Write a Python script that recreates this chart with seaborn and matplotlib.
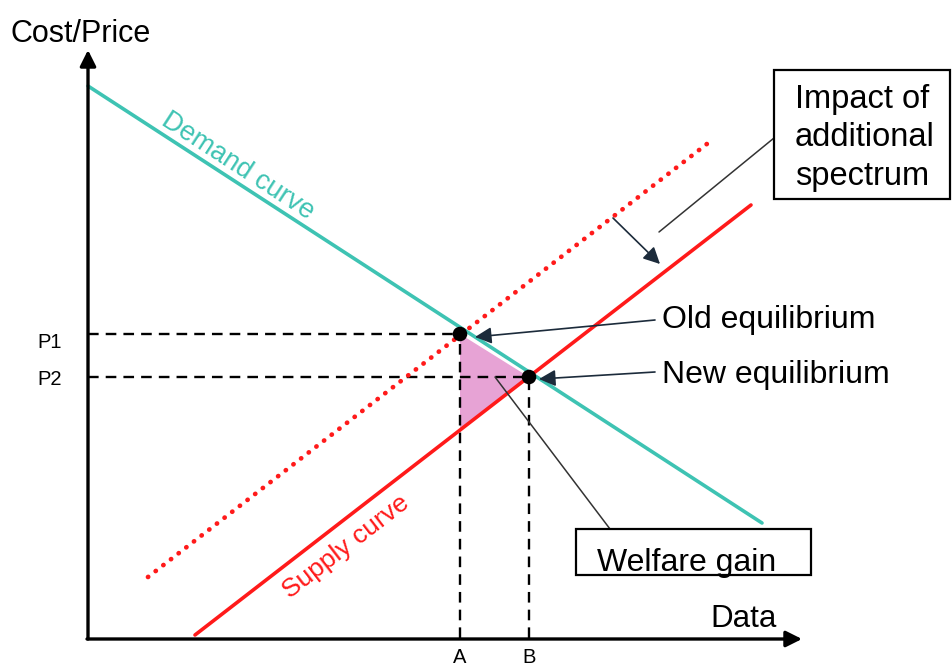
"""
Supply/demand diagram: impact of additional spectrum on the data market
"""

import numpy as np
import pandas as pd
import matplotlib
matplotlib.use('Agg')
import matplotlib.pyplot as plt
from matplotlib.patches import Rectangle
import seaborn as sns

# Curve end points (quantity, price) in diagram units
demand_x = [0.0, 67.4]
demand_y = [55.2, 11.5]
supply_x = [10.7, 66.3]
supply_y = [0.3, 43.3]
old_supply_x = [6.0, 62.4]
old_supply_y = [6.1, 49.8]

# Equilibria
eq_labels = ['Old equilibrium', 'New equilibrium']
eq_q = [37.2, 44.1]        # A, B
eq_p = [30.4, 26.1]        # P1, P2
price_ticks = ['P1', 'P2']
qty_ticks = ['A', 'B']

TEAL = '#3ec3b3'
RED = '#ff1a1a'
PINK = '#e7a3d5'
NAVY = '#1c2b3b'


def supply_at(x):
    return np.interp(x, supply_x, supply_y)


sns.set_theme(style='white')
plt.rcParams['font.family'] = ['Liberation Sans', 'DejaVu Sans']
plt.rcParams['text.color'] = 'black'

fig = plt.figure(figsize=(9.53, 6.70), dpi=100)
ax = fig.add_axes([0, 0, 1, 1])
ax.set_xlim(-8.8, 86.5)
ax.set_ylim(-3.2, 63.8)
ax.axis('off')

# welfare gain triangle
tri_x = [eq_q[0], eq_q[1], eq_q[0]]
tri_y = [eq_p[0], eq_p[1], supply_at(eq_q[0])]
ax.fill(tri_x, tri_y, color=PINK, lw=0, zorder=1)

# dashed guides to the axes
for q, p in zip(eq_q, eq_p):
    ax.plot([0, q], [p, p], color='black', lw=1.7, ls=(0, (4.5, 3)), zorder=2)
    ax.plot([q, q], [0, p], color='black', lw=1.7, ls=(0, (4.5, 3)), zorder=2)

# curves
curves = pd.DataFrame({'x': demand_x, 'y': demand_y})
sns.lineplot(data=curves, x='x', y='y', color=TEAL, lw=2.6, ax=ax, zorder=3)
sns.lineplot(x=supply_x, y=supply_y, color=RED, lw=2.6, ax=ax, zorder=3)
sns.lineplot(x=old_supply_x, y=old_supply_y, color=RED, lw=3.4,
             ls=(0, (0.05, 2.0)), dash_capstyle='round', ax=ax, zorder=3)

# equilibrium points
sns.scatterplot(x=eq_q, y=eq_p, color='black', s=110, ax=ax, zorder=5,
                edgecolor='none')

# axes with arrows
ax.annotate('', xy=(0, 58.8), xytext=(0, -0.1),
            arrowprops=dict(arrowstyle='-|>', lw=2.4, color='black',
                            mutation_scale=24, shrinkA=0, shrinkB=0))
ax.annotate('', xy=(71.4, -0.1), xytext=(-0.1, -0.1),
            arrowprops=dict(arrowstyle='-|>', lw=2.4, color='black',
                            mutation_scale=24, shrinkA=0, shrinkB=0))

ax.text(-7.8, 59.6, 'Cost/Price', fontsize=22, ha='left', va='baseline')
ax.text(62.2, 1.1, 'Data', fontsize=22.5, ha='left', va='baseline')

for lab, p in zip(price_ticks, [29.0, 25.3]):
    ax.text(-5.1, p, lab, fontsize=14.5, ha='left', va='baseline')
for lab, q in zip(qty_ticks, eq_q):
    ax.text(q, -2.5, lab, fontsize=14.5, ha='center', va='baseline')

# curve labels
ax.text(15.0, 47.2, 'Demand curve', fontsize=19.5, color=TEAL,
        rotation=-33, ha='center', va='center', rotation_mode='anchor')
ax.text(25.8, 9.1, 'Supply curve', fontsize=19, color=RED,
        rotation=37.7, ha='center', va='center', rotation_mode='anchor')

# equilibrium call-outs
label_y = [31.0, 25.5]
tips = [(38.7, 30.1), (45.1, 25.9)]
starts = [(56.7, 31.8), (56.7, 26.6)]
for lab, ly, tip, st in zip(eq_labels, label_y, tips, starts):
    ax.annotate('', xy=tip, xytext=st,
                arrowprops=dict(arrowstyle='-|>', lw=1.2, color=NAVY,
                                mutation_scale=25, shrinkA=0, shrinkB=0),
                zorder=4)
    ax.text(57.4, ly, lab, fontsize=23, ha='left', va='baseline')

# impact of additional spectrum
ax.add_patch(Rectangle((68.6, 43.9), 17.6, 12.9, fill=False, ec='black',
                       lw=1.6, zorder=4))
ax.text(70.7, 50.0, 'Impact of\nadditional\nspectrum', fontsize=23.5,
        ha='left', va='center', linespacing=1.3)
ax.plot([68.6, 57.1], [50.0, 40.6], color='#333333', lw=1.1)
ax.annotate('', xy=(57.2, 37.4), xytext=(52.5, 42.0),
            arrowprops=dict(arrowstyle='-|>', lw=1.2, color=NAVY,
                            mutation_scale=25, shrinkA=0, shrinkB=0))

# welfare gain
ax.plot([40.7, 52.2], [26.1, 10.9], color='#333333', lw=1.1, zorder=4)
ax.add_patch(Rectangle((48.8, 6.3), 23.5, 4.6, fill=True, fc='white',
                       ec='black', lw=1.6, zorder=4))
ax.text(59.9, 6.7, 'Welfare gain', fontsize=23, ha='center', va='baseline',
        zorder=5)

fig.savefig('out.png', dpi=100)
plt.close(fig)
